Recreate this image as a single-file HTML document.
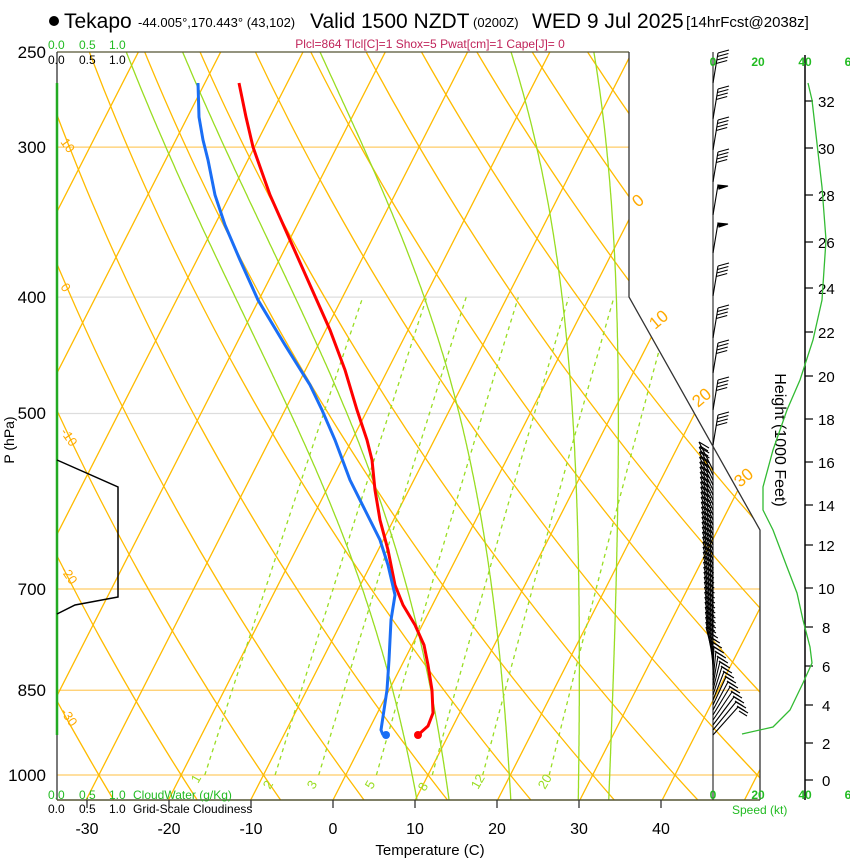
<!DOCTYPE html>
<html><head><meta charset="utf-8"><style>
body{margin:0;background:#fff;width:850px;height:860px;overflow:hidden;font-family:"Liberation Sans",Arial,sans-serif}
svg{display:block}
</style></head><body>
<svg id="s" width="850" height="860" xmlns="http://www.w3.org/2000/svg" font-family="Liberation Sans, Arial, sans-serif">
<defs><clipPath id="cp"><polygon points="57,52 629,52 629,297 760,530 760,800 57,800"/></clipPath>
<clipPath id="cp2"><polygon points="57,52 629,52 629,297 57,297"/></clipPath>
<clipPath id="cp3"><polygon points="57,297 629,297 760,530 760,775 57,775"/></clipPath></defs>
<g id="grid" clip-path="url(#cp)" fill="none"></g>
<g id="fg"></g>
</svg>
<script>
var NS="http://www.w3.org/2000/svg";
function el(p,t,a,txt){var e=document.createElementNS(NS,t);for(var k in a)e.setAttribute(k,a[k]);if(txt!==undefined)e.textContent=txt;p.appendChild(e);return e;}
var G=document.getElementById('grid'),F=document.getElementById('fg');
function Y(p){return 775-521.5*Math.log(1000/p);}
function P(y){return 1000*Math.exp(-(775-y)/521.5);}
function X(T,y){return 333+8.23*T+0.51*(800-y);}
// isobars
[[300,'#fc6'],[400,'#ddd'],[500,'#ddd'],[700,'#fc6'],[850,'#fc6'],[1000,'#fc6']].forEach(function(a){var y=Y(a[0]);el(G,'line',{x1:57,x2:760,y1:y,y2:y,stroke:a[1],'stroke-width':1.2});});
// isotherms
for(var T=-120;T<=60;T+=10){el(G,'line',{x1:X(T,800),y1:800,x2:X(T,0),y2:0,stroke:'#fb0','stroke-width':1.3});}
// dry adiabats
for(var th=-60;th<=120;th+=10){var d='';for(var y=0;y<=800;y+=10){var p=P(y);var Tk=(th+273.15)*Math.pow(p/1000,0.286);d+=(y?'L':'M')+X(Tk-273.15,y).toFixed(1)+','+y;}el(G,'path',{d:d,stroke:'#fb0','stroke-width':1.3});}
// mixing ratio
var g3=el(G,'g',{'clip-path':'url(#cp3)'});
[1,2,3,5,8,12,20].forEach(function(w){var d='';var i=0;for(var p=1000;p>=400;p-=10){var e=w*p/(622+w);var l=Math.log(e/6.112);var Td=243.5*l/(17.67-l);var y=Y(p);d+=(i++?'L':'M')+X(Td,y).toFixed(1)+','+y.toFixed(1);}el(g3,'path',{d:d,stroke:'#9d2','stroke-width':1.3,'stroke-dasharray':'4,4'});});
// moist adiabats
function es(T){return 6.112*Math.exp(17.67*T/(T+243.5));}
[10.2,14.1,21.6,29.8,33.5].forEach(function(T0){var T=T0+273.15,p=1049,d='M'+X(T0,Y(p)).toFixed(1)+','+Y(p).toFixed(1);while(p>240){var rs=0.622*es(T-273.15)/(p-es(T-273.15));var dTdp=(1/p)*(287*T+2.5e6*rs)/(1004+2.5e6*2.5e6*rs*0.622/(287*T*T));var dp=-2;T+=dTdp*dp;p+=dp;d+='L'+X(T-273.15,Y(p)).toFixed(1)+','+Y(p).toFixed(1);}el(G,'path',{d:d,stroke:'#9d2','stroke-width':1.3});});
</script>
<svg width="850" height="860" style="position:absolute;left:0;top:0" xmlns="http://www.w3.org/2000/svg" font-family="Liberation Sans, Arial, sans-serif">
<!-- borders -->
<polyline points="57,52 629,52" stroke="#553" stroke-width="1.3" fill="none"/>
<polyline points="629,52 629,297 760,530 760,800" stroke="#333" stroke-width="1.3" fill="none"/>
<line x1="57" y1="52" x2="57" y2="800" stroke="#333" stroke-width="1.3"/>
<line x1="57" y1="800" x2="760" y2="800" stroke="#553" stroke-width="1.5"/>
<line x1="713" y1="52" x2="713" y2="800" stroke="#333" stroke-width="1.2"/>
<line x1="805" y1="55" x2="805" y2="800" stroke="#000" stroke-width="1.5"/>
<g stroke="#333" stroke-width="1.3">
<line x1="87" y1="800" x2="87" y2="808"/><line x1="169" y1="800" x2="169" y2="808"/><line x1="251" y1="800" x2="251" y2="808"/><line x1="333" y1="800" x2="333" y2="808"/><line x1="415" y1="800" x2="415" y2="808"/><line x1="497" y1="800" x2="497" y2="808"/><line x1="579" y1="800" x2="579" y2="808"/><line x1="661" y1="800" x2="661" y2="808"/>
</g>
<g stroke="#000" stroke-width="1.2">
<line x1="805" y1="780" x2="813" y2="780"/><line x1="805" y1="743" x2="813" y2="743"/><line x1="805" y1="705" x2="813" y2="705"/><line x1="805" y1="666" x2="813" y2="666"/><line x1="805" y1="627" x2="813" y2="627"/><line x1="805" y1="588" x2="813" y2="588"/><line x1="805" y1="545" x2="813" y2="545"/><line x1="805" y1="505" x2="813" y2="505"/><line x1="805" y1="462" x2="813" y2="462"/><line x1="805" y1="419" x2="813" y2="419"/><line x1="805" y1="376" x2="813" y2="376"/><line x1="805" y1="332" x2="813" y2="332"/><line x1="805" y1="288" x2="813" y2="288"/><line x1="805" y1="242" x2="813" y2="242"/><line x1="805" y1="195" x2="813" y2="195"/><line x1="805" y1="148" x2="813" y2="148"/><line x1="805" y1="101" x2="813" y2="101"/>
</g>
<g font-size="15" fill="#000">
<text x="822" y="786">0</text><text x="822" y="749">2</text><text x="822" y="711">4</text><text x="822" y="672">6</text><text x="822" y="633">8</text><text x="818" y="594">10</text><text x="818" y="551">12</text><text x="818" y="511">14</text><text x="818" y="468">16</text><text x="818" y="425">18</text><text x="818" y="382">20</text><text x="818" y="338">22</text><text x="818" y="294">24</text><text x="818" y="248">26</text><text x="818" y="201">28</text><text x="818" y="154">30</text><text x="818" y="107">32</text>
</g>
<text transform="translate(775,440) rotate(90)" font-size="16" text-anchor="middle">Height (1000 Feet)</text>
<!-- cloud -->
<line x1="57" y1="83" x2="57" y2="735" stroke="#2a2" stroke-width="2.5"/>
<polyline points="57,460 118,487 118,597 75,605 57,614" stroke="#000" stroke-width="1.5" fill="none"/>
<!-- speed -->
<polyline points="808,83 812,100 822,187 826,240 822,300 813,340 800,380 787,410 773,450 763,487 763,510 773,530 787,567 797,593 803,620 810,647 812,663 803,683 790,710 773,727 742,734" fill="none" stroke="#3b3" stroke-width="1.3"/>
<!-- temps -->
<polyline points="239,83 246,117 253,147 270,195 290,240 310,285 330,330 345,370 357,410 367,440 372,460 375,490 380,520 388,550 395,585 403,605 415,625 424,645 428,665 432,690 433,713 428,726 418,735" fill="none" stroke="#f00" stroke-width="3"/>
<circle cx="418" cy="735" r="4" fill="#f00"/>
<polyline points="198,83 199,117 203,140 208,160 215,195 225,225 240,260 258,300 285,345 310,385 322,410 335,440 350,480 365,510 380,540 388,565 395,595 391,620 389,660 387,690 384,710 381,730 383,735" fill="none" stroke="#1a6ef5" stroke-width="3"/>
<circle cx="386" cy="735" r="4" fill="#1a6ef5"/>
<g id="barbs" stroke="#000" stroke-width="1.1" fill="none"></g>
<!-- labels -->
<g fill="#fa0" font-size="17">
<text transform="translate(638,208) rotate(-40)">0</text>
<text transform="translate(655,330) rotate(-40)">10</text>
<text transform="translate(698,408) rotate(-40)">20</text>
<text transform="translate(740,488) rotate(-40)">30</text>
</g>
<g fill="#fa0" font-size="13">
<text transform="translate(60,142) rotate(55)">10</text>
<text transform="translate(60,287) rotate(55)">0</text>
<text transform="translate(60,432) rotate(55)">-10</text>
<text transform="translate(60,570) rotate(55)">-20</text>
<text transform="translate(60,712) rotate(55)">-30</text>
</g>
<g fill="#9d2" font-size="13">
<text transform="translate(198,784) rotate(-60)">1</text>
<text transform="translate(270,790) rotate(-60)">2</text>
<text transform="translate(314,790) rotate(-60)">3</text>
<text transform="translate(372,790) rotate(-60)">5</text>
<text transform="translate(425,792) rotate(-60)">8</text>
<text transform="translate(478,790) rotate(-60)">12</text>
<text transform="translate(545,790) rotate(-60)">20</text>
</g>
<g font-size="17" text-anchor="end">
<text x="46" y="58">250</text><text x="46" y="153">300</text><text x="46" y="303">400</text><text x="46" y="419">500</text><text x="46" y="595">700</text><text x="46" y="696">850</text><text x="46" y="781">1000</text>
</g>
<text transform="translate(14,440) rotate(-90)" font-size="14" text-anchor="middle">P (hPa)</text>
<g font-size="16" text-anchor="middle">
<text x="87" y="834">-30</text><text x="169" y="834">-20</text><text x="251" y="834">-10</text><text x="333" y="834">0</text><text x="415" y="834">10</text><text x="497" y="834">20</text><text x="579" y="834">30</text><text x="661" y="834">40</text>
</g>
<text x="430" y="855" font-size="15" text-anchor="middle">Temperature (C)</text>
<g font-size="12" fill="#2b2">
<text x="48" y="49">0.0</text><text x="79" y="49">0.5</text><text x="109" y="49">1.0</text>
<text x="48" y="799">0.0</text><text x="79" y="799">0.5</text><text x="109" y="799">1.0</text><text x="133" y="799">CloudWater (g/Kg)</text>
</g>
<g font-size="12" fill="#000">
<text x="48" y="64">0.0</text><text x="79" y="64">0.5</text><text x="109" y="64">1.0</text>
<text x="48" y="813">0.0</text><text x="79" y="813">0.5</text><text x="109" y="813">1.0</text><text x="133" y="813">Grid-Scale Cloudiness</text>
</g>
<g font-size="12" fill="#2b2" font-weight="bold" text-anchor="middle">
<text x="713" y="66">0</text><text x="758" y="66">20</text><text x="805" y="66">40</text><text x="848" y="66">6</text>
<text x="713" y="799">0</text><text x="758" y="799">20</text><text x="805" y="799">40</text><text x="848" y="799">6</text>
</g>
<text x="732" y="814" font-size="12" fill="#2b2">Speed (kt)</text>
<text x="430" y="48" font-size="12" fill="#c0245a" text-anchor="middle">Plcl=864 Tlcl[C]=1 Shox=5 Pwat[cm]=1 Cape[J]= 0</text>
<circle cx="54" cy="21" r="5" fill="#000"/>
<text x="64" y="28" font-size="21">Tekapo</text>
<text x="138" y="27" font-size="13">-44.005°,170.443° (43,102)</text>
<text x="310" y="28" font-size="21">Valid 1500 NZDT</text>
<text x="473" y="27" font-size="13">(0200Z)</text>
<text x="532" y="28" font-size="21">WED 9 Jul 2025</text>
<text x="686" y="27" font-size="15">[14hrFcst@2038z]</text>
</svg>
<script>
var B=document.getElementById('barbs');
function ln(x1,y1,x2,y2){el(B,'line',{x1:x1,y1:y1,x2:x2,y2:y2});}
[83,119,150,182,215,253,296,338,373,410,445].forEach(function(y,i){var tx=718,ty=y-30;ln(713,y,tx,ty);
 if(i==4||i==5){el(B,'polygon',{points:tx+','+ty+' '+(tx+10)+','+(ty+1)+' '+(tx+1)+','+(ty+4),fill:'#000'});}
 else{for(var k=0;k<4;k++){var yy=ty+k*3.5,xx=tx-k*0.6;ln(xx,yy,xx+11,yy-3);}}});
for(var y=470;y<=735;y+=5){var f=(y-470)/265;var dx=f<0.7?-14+f*10:-7+(f-0.7)/0.3*32;var tx=713+dx,ty=y-28;ln(713,y,tx,ty);ln(tx,ty,tx+10,ty+6);ln(tx+1,ty+4,tx+9,ty+9);}
</script>
</body></html>
